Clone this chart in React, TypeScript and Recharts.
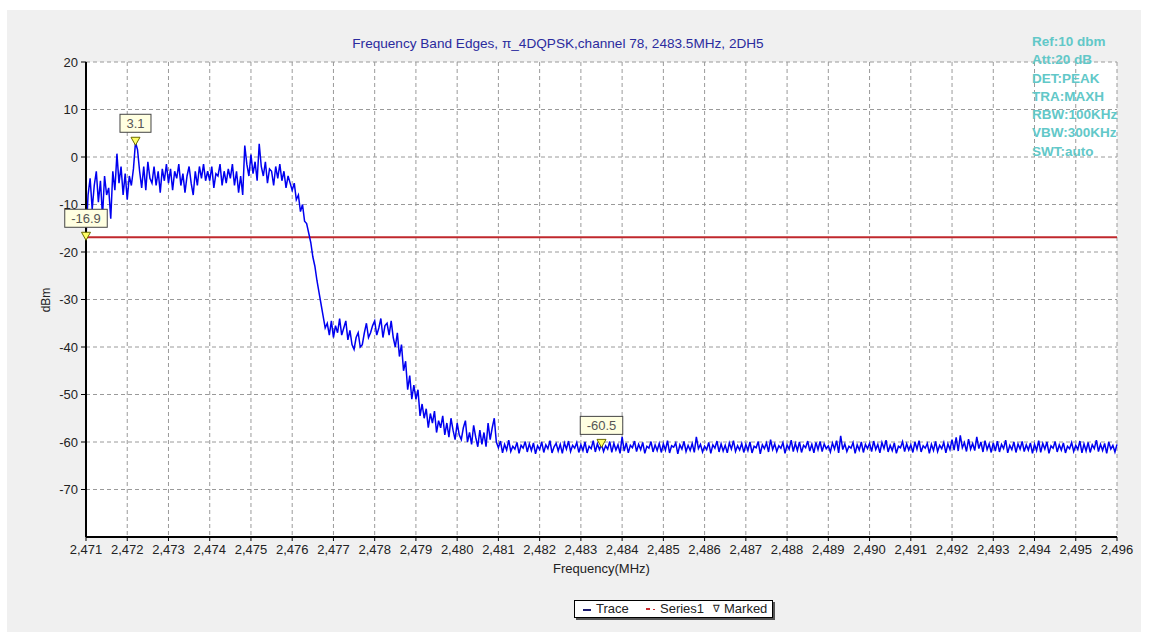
import React from "react";
import {
  ComposedChart,
  Line,
  Scatter,
  XAxis,
  YAxis,
  CartesianGrid,
  ReferenceLine,
} from "recharts";

// trace samples, 0.05 MHz apart, one row per MHz starting at 2471.00
const TRACE_START = 2471;
const TRACE_STEP = 0.05;
const trace2471 = [-16.9, -8, -4.5, -11, -6, -3, -9.5, -5, -12.5, -4, -8, -6.5, -13, -3, -7, 0.7, -5.5, -2, -8, -3.5];
const trace2472 = [-9, -4, -6, -2.5, 3.1, 1.5, -3, -6.5, -2, -7, -1, -4.5, -5.5, -2, -6, -3, -7.5, -2.5, -5, -1.5];
const trace2473 = [-5.5, -2.5, -7, -3, -4.5, -1.5, -6, -3.5, -7.5, -4, -2, -5.5, -8, -3, -6, -2, -4.5, -1.5, -5, -3];
const trace2474 = [-5, -2, -6.5, -3.5, -4, -1.5, -6, -3, -5.5, -2.5, -4.5, -1.5, -6, -3, -7.5, -4, -8, 2.4, -1.5, -4];
const trace2475 = [0.5, -3.5, -1, -5, 2.8, -2, -4, -1, -5.5, -2.5, -3, -6, -2, -4.5, -1.5, -5, -3, -6.5, -4, -5.5];
const trace2476 = [-7, -5.5, -9, -8, -11.5, -10, -13.5, -14, -16, -18, -21, -23, -26, -28.5, -31, -33.5, -36, -35, -37.5, -34.5];
const trace2477 = [-38, -35.5, -37, -34, -37.5, -36, -34.5, -38.5, -36.5, -39.5, -40.5, -38, -37, -40, -39.5, -37, -35, -38, -37, -35.5];
const trace2478 = [-34.5, -37.5, -36, -34, -38, -35.5, -35, -37.5, -34.5, -38, -40, -37, -42, -39.5, -45, -43, -49, -46, -51, -48];
const trace2479 = [-51, -49, -54.5, -52, -55, -53, -57, -54, -56, -53.5, -58, -55.5, -57, -54.5, -58.5, -56, -59, -55, -57.5, -59.5];
const trace2480 = [-56, -58.5, -59.5, -57, -55.5, -60, -58, -60.5, -56.5, -59, -61, -57.5, -60.5, -58, -61, -56, -59.5, -57, -55, -60];
const trace2481 = [-61.2, -59.8, -62.3, -60.5, -61.7, -59.6, -62.0, -60.9, -61.5, -60.1, -62.4, -60.7, -61.3, -59.9, -62.1, -60.4, -61.8, -60.2, -62.5, -60.8];
const trace2482 = [-61.6, -60.0, -62.2, -60.6, -61.4, -59.7, -62.3, -61.0, -60.3, -61.9, -60.5, -62.4, -60.2, -61.5, -59.8, -62.0, -60.7, -61.3, -60.1, -62.2];
const trace2483 = [-60.6, -61.8, -60.0, -62.3, -60.9, -61.4, -59.7, -62.1, -60.4, -61.6, -60.5, -62.0, -60.8, -61.5, -59.9, -62.2, -60.3, -61.7, -60.6, -62.4];
const trace2484 = [-58.9, -61.9, -60.2, -62.3, -60.7, -61.2, -59.8, -62.0, -60.5, -61.6, -60.1, -62.4, -60.9, -61.3, -59.9, -62.1, -60.6, -61.8, -60.3, -62.2];
const trace2485 = [-60.4, -61.7, -59.7, -62.3, -60.8, -61.1, -60.2, -62.5, -60.6, -61.5, -59.9, -62.0, -60.7, -61.8, -60.3, -62.2, -58.9, -61.4, -60.5, -62.1];
const trace2486 = [-60.9, -61.6, -60.1, -62.4, -60.6, -61.3, -59.8, -62.1, -60.4, -61.9, -60.7, -62.3, -60.2, -61.5, -59.7, -62.0, -60.8, -61.7, -60.3, -62.2];
const trace2487 = [-60.5, -61.8, -60.0, -62.3, -60.9, -61.2, -59.9, -62.5, -60.6, -61.4, -60.2, -62.1, -59.5, -61.6, -60.4, -62.0, -60.8, -61.3, -60.1, -62.4];
const trace2488 = [-60.6, -61.5, -59.6, -62.0, -60.3, -61.8, -60.0, -62.2, -60.7, -61.2, -59.8, -61.9, -60.5, -62.3, -60.1, -61.6, -59.9, -62.0, -60.4, -61.4];
const trace2489 = [-60.8, -62.1, -60.2, -61.5, -59.7, -62.3, -58.7, -61.6, -60.4, -62.0, -60.9, -61.3, -60.1, -62.4, -60.6, -61.7, -60.0, -62.2, -60.5, -61.4];
const trace2490 = [-60.3, -62.0, -59.8, -61.6, -60.5, -62.3, -60.1, -61.4, -59.6, -62.1, -60.7, -61.8, -60.2, -62.4, -60.9, -61.2, -59.9, -62.0, -60.4, -61.7];
const trace2491 = [-60.6, -62.2, -60.0, -61.5, -59.7, -62.1, -60.8, -61.3, -60.3, -62.4, -60.5, -61.8, -59.9, -62.0, -60.7, -61.4, -60.1, -62.3, -60.4, -61.6];
const trace2492 = [-59.5, -61.7, -59.0, -61.9, -58.6, -61.2, -60.1, -62.0, -59.4, -61.5, -60.3, -61.8, -58.9, -61.4, -60.0, -62.1, -59.7, -61.6, -60.4, -62.2];
const trace2493 = [-60.2, -61.9, -59.8, -62.1, -60.5, -61.4, -59.6, -62.3, -60.7, -61.6, -60.0, -62.2, -60.4, -61.5, -59.9, -62.0, -60.6, -61.7, -60.2, -62.4];
const trace2494 = [-60.5, -61.8, -59.7, -62.2, -60.3, -61.5, -60.0, -62.4, -60.8, -61.3, -59.9, -62.1, -60.6, -61.7, -60.2, -62.3, -60.9, -61.4, -60.1, -62.0];
const trace2495 = [-60.7, -61.6, -59.8, -62.3, -60.4, -61.9, -60.1, -62.2, -60.6, -61.4, -59.6, -62.0, -60.5, -61.8, -60.3, -62.4, -60.0, -61.5, -60.7, -62.1];
const trace2496 = [-60.5];

const limitDbm = -16.9; // Series1

const markerFreqs = [2471.0, 2472.2, 2483.5];
const markerValues = [-16.9, 3.1, -60.5];

const freqTicks = [
  2471, 2472, 2473, 2474, 2475, 2476, 2477, 2478, 2479, 2480, 2481, 2482, 2483,
  2484, 2485, 2486, 2487, 2488, 2489, 2490, 2491, 2492, 2493, 2494, 2495, 2496,
];
const dbmTicks = [-70, -60, -50, -40, -30, -20, -10, 0, 10, 20];

const infoLines = ["Ref:10 dbm", "Att:20 dB", "DET:PEAK", "TRA:MAXH", "RBW:100KHz", "VBW:300KHz", "SWT:auto"];

const traceData = [
  trace2471, trace2472, trace2473, trace2474, trace2475, trace2476, trace2477,
  trace2478, trace2479, trace2480, trace2481, trace2482, trace2483, trace2484,
  trace2485, trace2486, trace2487, trace2488, trace2489, trace2490, trace2491,
  trace2492, trace2493, trace2494, trace2495, trace2496,
]
  .flat()
  .map((dbm, i) => ({ freq: +(TRACE_START + i * TRACE_STEP).toFixed(2), dbm }));

const markerData = markerFreqs.map((freq, i) => ({ freq, dbm: markerValues[i] }));

// small inward ticks, 5 per division
const minorFreqTicks: number[] = [];
for (let f = 2471; f <= 2496.001; f += 0.2) minorFreqTicks.push(+f.toFixed(1));
const minorDbmTicks: number[] = [];
for (let d = -80; d <= 20; d += 2) minorDbmTicks.push(d);

const FONT = "'Liberation Sans', Arial, sans-serif";

const fmtFreq = (v: number) => `${Math.floor(v / 1000)},${String(v % 1000).padStart(3, "0")}`;

const charW = (s: string) =>
  s.split("").reduce((w, c) => w + (c === "." ? 3.6 : c === "-" ? 4.3 : 7.2), 0);

const MarkerShape = (props: any) => {
  const { cx, cy, payload } = props;
  if (cx == null || cy == null) return null;
  const label = payload.dbm.toFixed(1);
  const w = charW(label) + 13;
  return (
    <g>
      <rect x={cx - w / 2} y={cy - 28} width={w} height={18} fill="#ffffe1" stroke="#444" strokeWidth={1} />
      <text x={cx} y={cy - 14.5} textAnchor="middle" fontSize={13} fontFamily={FONT} fill="#555">
        {label}
      </text>
      <polygon
        points={`${cx - 4.5},${cy - 5} ${cx + 4.5},${cy - 5} ${cx},${cy + 3}`}
        fill="#ffff66"
        stroke="#6b6b00"
        strokeWidth={1}
      />
    </g>
  );
};

export default function App() {
  return (
    <div style={{ position: "absolute", left: 0, top: 0, width: 1149, height: 644, background: "#fff", fontFamily: FONT }}>
      <div style={{ position: "absolute", left: 7, top: 10, width: 1134, height: 622, background: "#f0f0f0" }} />

      <div style={{ position: "absolute", left: 0, top: 0 }}>
        <ComposedChart width={1149} height={644} data={traceData} margin={{ top: 62, right: 32, bottom: 77, left: 26 }}>
          <CartesianGrid stroke="#9a9a9a" strokeDasharray="4 3" fill="#ffffff" />
          <XAxis
            xAxisId="minor"
            type="number"
            domain={[2471, 2496]}
            ticks={minorFreqTicks}
            tick={false}
            tickSize={3}
            tickLine={{ stroke: "#000" }}
            axisLine={false}
            mirror
          />
          <YAxis
            yAxisId="minor"
            type="number"
            domain={[-80, 20]}
            ticks={minorDbmTicks}
            tick={false}
            tickSize={3}
            tickLine={{ stroke: "#000" }}
            axisLine={false}
            mirror
          />
          <XAxis
            dataKey="freq"
            type="number"
            domain={[2471, 2496]}
            ticks={freqTicks}
            tickFormatter={fmtFreq}
            interval={0}
            height={30}
            tickSize={4}
            tickMargin={4}
            tick={{ fontSize: 13, fill: "#222", fontFamily: FONT }}
            tickLine={{ stroke: "#000" }}
            axisLine={{ stroke: "#000", strokeWidth: 2 }}
          />
          <YAxis
            type="number"
            domain={[-80, 20]}
            ticks={dbmTicks}
            interval={0}
            width={60}
            tickSize={5}
            tickMargin={3}
            tick={{ fontSize: 13, fill: "#222", fontFamily: FONT }}
            tickLine={{ stroke: "#000" }}
            axisLine={{ stroke: "#000", strokeWidth: 2 }}
          />
          <ReferenceLine y={limitDbm} stroke="#c0282d" strokeWidth={2} />
          <Line
            dataKey="dbm"
            stroke="#0000f0"
            strokeWidth={1.5}
            dot={false}
            activeDot={false}
            isAnimationActive={false}
          />
          <Scatter data={markerData} dataKey="dbm" shape={MarkerShape} isAnimationActive={false} />
        </ComposedChart>
      </div>

      <div style={{ position: "absolute", left: 0, width: 1116, top: 36, textAlign: "center", fontSize: 13.6, color: "#2b2b9e" }}>
        Frequency Band Edges, π_4DQPSK,channel 78, 2483.5MHz, 2DH5
      </div>

      <div style={{ position: "absolute", left: 1032, top: 33, fontSize: 13.5, fontWeight: "bold", lineHeight: "18.3px", color: "#62c8c8" }}>
        {infoLines.map((l) => (
          <div key={l}>{l}</div>
        ))}
      </div>

      <div style={{ position: "absolute", left: 46, top: 300, transform: "translate(-50%, -50%) rotate(-90deg)", fontSize: 12, color: "#222" }}>
        dBm
      </div>

      <div style={{ position: "absolute", left: 86, width: 1031, top: 561, textAlign: "center", fontSize: 13, color: "#222" }}>
        Frequency(MHz)
      </div>

      <div
        style={{
          position: "absolute",
          left: 574,
          top: 600,
          width: 197,
          height: 16,
          background: "#fff",
          border: "1px solid #000",
          boxShadow: "2px 2px 0 #555",
          fontSize: 13,
          lineHeight: "16px",
          color: "#222",
          whiteSpace: "nowrap",
        }}
      >
        <div style={{ position: "absolute", left: 8, top: 8, width: 8, height: 1.5, background: "#1a1a6e" }} />
        <span style={{ position: "absolute", left: 21 }}>Trace</span>
        <div style={{ position: "absolute", left: 71, top: 7, width: 4, height: 2, background: "#c8282d" }} />
        <div style={{ position: "absolute", left: 78, top: 7.5, width: 1.5, height: 1.5, background: "#c8282d" }} />
        <span style={{ position: "absolute", left: 85 }}>Series1</span>
        <span style={{ position: "absolute", left: 138, fontSize: 10 }}>∇</span>
        <span style={{ position: "absolute", left: 149 }}>Marked</span>
      </div>
    </div>
  );
}
